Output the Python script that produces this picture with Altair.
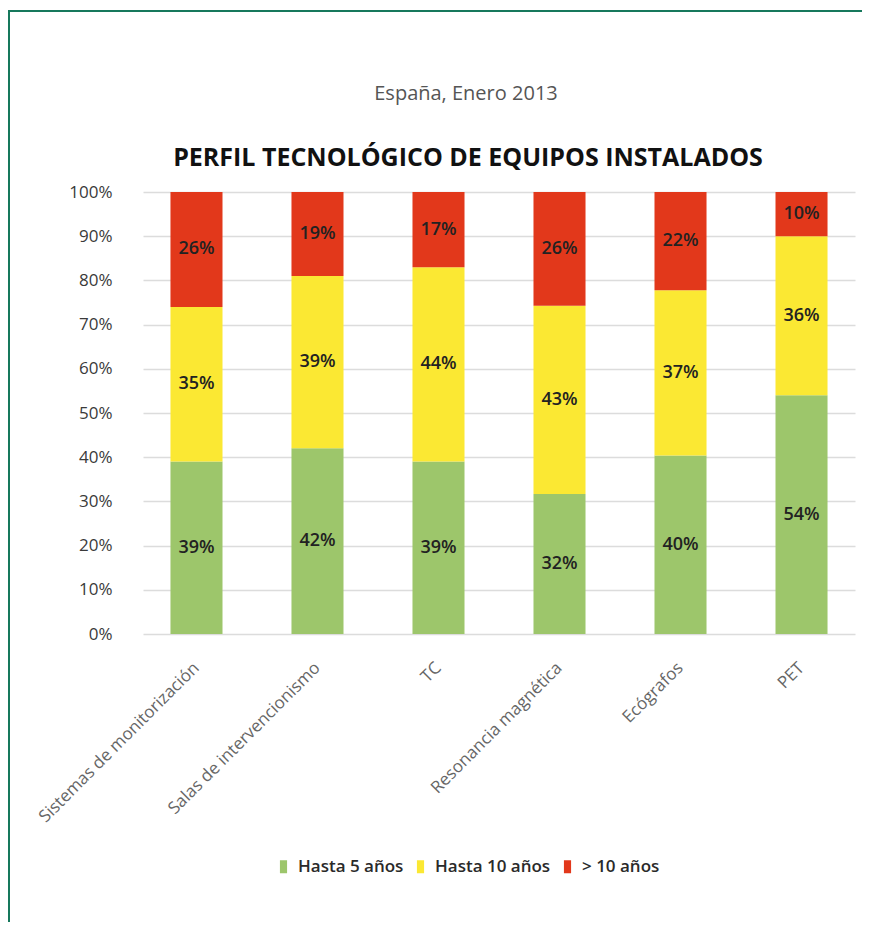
import altair as alt
import pandas as pd

categories = ["Sistemas de monitorización", "Salas de intervencionismo", "TC",
              "Resonancia magnética", "Ecógrafos", "PET"]
hasta5 = [39, 42, 39, 32, 40, 54]
hasta10 = [35, 39, 44, 43, 37, 36]
mas10 = [26, 19, 17, 26, 22, 10]
series = ["Hasta 5 años", "Hasta 10 años", "> 10 años"]
colors = ["#9dc66b", "#fbe833", "#e2381b"]
y_ticks = [0, 0.1, 0.2, 0.3, 0.4, 0.5, 0.6, 0.7, 0.8, 0.9, 1.0]
subtitle_text = "España, Enero 2013"
title_text = "PERFIL TECNOLÓGICO DE EQUIPOS INSTALADOS"

rows = []
for i, c in enumerate(categories):
    for k, (s, vals) in enumerate(zip(series, [hasta5, hasta10, mas10])):
        rows.append({"cat": c, "serie": s, "orden": k, "valor": vals[i]})
df = pd.DataFrame(rows)

FONT = "Open Sans"

base = (
    alt.Chart(df)
    .transform_joinaggregate(total="sum(valor)", groupby=["cat"])
    .transform_calculate(pct="datum.valor / datum.total", lbl="datum.valor + '%'")
    .transform_stack(stack="pct", as_=["y0", "y1"], groupby=["cat"],
                     sort=[alt.SortField("orden", order="ascending")])
    .transform_calculate(mid="(datum.y0 + datum.y1) / 2")
)

x_enc = alt.X(
    "cat:N", sort=categories, title=None,
    scale=alt.Scale(paddingInner=0.57, paddingOuter=0.227),
    axis=alt.Axis(labelAngle=-45, labelAlign="right", labelBaseline="middle",
                  labelFontSize=17, labelColor="#666666", labelFont=FONT,
                  labelPadding=31, labelLimit=400, domain=False, ticks=False),
)

bars = base.mark_bar().encode(
    x=x_enc,
    y=alt.Y("y0:Q", title=None, scale=alt.Scale(domain=[0, 1]),
            axis=alt.Axis(values=y_ticks, format=".0%", labelFontSize=17,
                          labelColor="#3a3a3a", labelFont=FONT, labelPadding=31,
                          domain=False, ticks=False, gridColor="#dcdcdc",
                          gridWidth=1.5)),
    y2="y1:Q",
    color=alt.Color("serie:N", sort=series,
                    scale=alt.Scale(domain=series, range=colors),
                    legend=alt.Legend(
                        title=None, orient="none", direction="horizontal",
                        legendX=132, legendY=666, padding=0,
                        symbolType="M-0.55,-1H0.55V1H-0.55Z", symbolSize=169,
                        symbolStrokeWidth=0, symbolOpacity=1,
                        labelFontSize=17, labelFont=FONT, labelFontWeight=600,
                        labelColor="#2a2a2a", labelOffset=6, columnPadding=8)),
    order=alt.Order("orden:Q"),
)

labels = base.mark_text(font=FONT, fontSize=18, fontWeight=600,
                        color="#222222").encode(
    x=x_enc,
    y=alt.Y("mid:Q"),
    text="lbl:N",
)

ann_df = pd.DataFrame({"t": [subtitle_text], "h": [title_text]})
sub_mark = alt.Chart(ann_df).mark_text(
    font=FONT, fontSize=20, color="#555555", align="center", baseline="alphabetic"
).encode(x=alt.value(323), y=alt.value(-92), text="t:N")
title_mark = alt.Chart(ann_df).mark_text(
    font=FONT, fontSize=25, fontWeight="bold", color="#111111", align="center",
    baseline="alphabetic"
).encode(x=alt.value(325), y=alt.value(-26), text="h:N")

frame_df = pd.DataFrame({"k": [0]})
frame_left = alt.Chart(frame_df).mark_rule(color="#16785c", strokeWidth=2).encode(
    x=alt.value(-134), y=alt.value(-181), y2=alt.value(740))
frame_top = alt.Chart(frame_df).mark_rule(color="#16785c", strokeWidth=2).encode(
    x=alt.value(-135), x2=alt.value(720), y=alt.value(-181))

chart = (
    alt.layer(frame_left, frame_top, bars, labels, sub_mark, title_mark)
    .properties(
        width=712, height=442,
        autosize=alt.AutoSizeParams(type="none"),
        padding={"left": 135, "top": 184, "right": 7, "bottom": 288},
    )
    .configure_view(stroke=None)
)

chart.save("out.html", embed_options={"renderer": "svg", "actions": False})
